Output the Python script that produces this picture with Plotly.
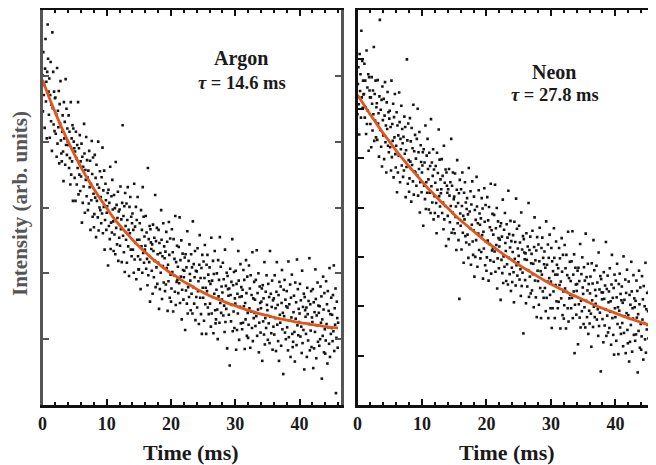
import plotly.graph_objects as go

# ---------------- data (arbitrary intensity units) ----------------
SAMPLE_INTERVAL_MS = 1 / 15  # spacing of the recorded samples

argon_intensity = [
    501, 446, 536, 471, 486, 421, 511, 556, 461, 491, 405, 506, 578, 526, 476,
    441, 496, 406, 471, 521, 431, 456, 386, 566, 451, 506, 426, 476, 416, 466,
    467, 412, 442, 377, 512, 397, 447, 422, 477, 367, 457, 427, 492, 402, 382,
    370, 415, 440, 385, 340, 460, 405, 430, 365, 495, 395, 450, 380, 420, 400,
    395, 440, 360, 415, 375, 335, 460, 350, 405, 370, 425, 310, 420, 400, 390,
    345, 385, 310, 415, 375, 335, 395, 360, 460, 320, 390, 350, 410, 325, 370,
    347, 397, 277, 377, 307, 362, 332, 427, 382, 292, 357, 342, 407, 317, 372,
    346, 296, 356, 306, 386, 331, 371, 266, 336, 311, 401, 351, 286, 376, 321,
    270, 290, 380, 315, 345, 255, 365, 310, 335, 285, 400, 265, 330, 300, 355,
    296, 316, 276, 346, 291, 391, 261, 326, 301, 356, 236, 281, 336, 311, 266,
    292, 302, 322, 212, 327, 272, 307, 252, 362, 237, 277, 317, 262, 342, 297,
    279, 234, 319, 259, 299, 229, 369, 269, 304, 244, 284, 324, 219, 294, 254,
    297, 242, 332, 267, 282, 217, 307, 425, 257, 287, 232, 302, 202, 322, 272,
    251, 306, 216, 281, 331, 241, 266, 196, 301, 261, 316, 236, 286, 226, 276,
    291, 236, 266, 201, 336, 221, 271, 246, 301, 191, 281, 251, 316, 226, 206,
    206, 251, 276, 221, 176, 296, 241, 266, 201, 331, 231, 286, 216, 256, 236,
    242, 287, 207, 262, 222, 182, 360, 197, 252, 217, 272, 157, 267, 247, 237,
    204, 244, 169, 274, 234, 194, 254, 219, 319, 179, 249, 209, 269, 184, 229,
    216, 266, 146, 246, 176, 231, 201, 296, 251, 161, 226, 211, 276, 186, 241,
    223, 173, 233, 183, 263, 208, 248, 143, 213, 188, 278, 228, 163, 253, 198,
    157, 177, 267, 202, 232, 142, 252, 197, 222, 172, 287, 152, 217, 187, 242,
    190, 210, 170, 240, 185, 285, 155, 220, 195, 250, 130, 175, 230, 205, 160,
    194, 204, 224, 114, 229, 174, 209, 154, 264, 139, 179, 219, 164, 244, 199,
    189, 144, 229, 169, 209, 139, 279, 179, 214, 154, 194, 234, 129, 204, 164,
    203, 148, 238, 173, 188, 123, 213, 258, 163, 193, 138, 208, 108, 228, 178,
    163, 218, 128, 193, 243, 153, 178, 108, 213, 173, 228, 148, 198, 138, 188,
    209, 154, 184, 119, 254, 139, 189, 164, 219, 109, 199, 169, 234, 144, 124,
    130, 175, 200, 145, 100, 220, 165, 190, 125, 255, 155, 210, 140, 180, 160,
    171, 216, 136, 191, 151, 111, 236, 126, 181, 146, 201, 86, 196, 176, 166,
    137, 177, 60, 207, 167, 127, 187, 152, 252, 112, 182, 142, 202, 117, 162,
    154, 204, 84, 184, 114, 169, 139, 234, 189, 99, 164, 149, 214, 124, 179,
    165, 115, 175, 125, 205, 150, 190, 85, 155, 130, 220, 170, 105, 195, 140,
    102, 122, 212, 147, 177, 87, 197, 142, 167, 117, 232, 97, 162, 132, 187,
    140, 160, 120, 190, 135, 235, 105, 170, 145, 200, 80, 125, 180, 155, 110,
    147, 157, 177, 67, 182, 127, 162, 107, 217, 92, 132, 172, 117, 197, 152,
    144, 99, 184, 124, 164, 94, 234, 134, 169, 109, 149, 189, 84, 159, 119,
    162, 107, 197, 132, 147, 82, 172, 217, 122, 152, 97, 167, 67, 187, 137,
    125, 180, 90, 155, 205, 115, 140, 47, 175, 135, 190, 110, 160, 100, 150,
    173, 118, 148, 83, 218, 103, 153, 128, 183, 73, 163, 133, 198, 108, 88,
    96, 141, 166, 111, 66, 186, 131, 156, 91, 221, 121, 176, 106, 146, 126,
    139, 184, 104, 159, 119, 79, 204, 94, 149, 114, 169, 54, 164, 144, 134,
    108, 148, 73, 178, 138, 98, 158, 123, 223, 83, 153, 113, 173, 88, 133,
    126, 176, 56, 156, 86, 141, 111, 206, 161, 71, 136, 121, 186, 96, 151,
    140, 90, 150, 100, 180, 125, 165, 40, 130, 105, 195, 145, 80, 170, 115,
    78, 98, 188, 123, 153, 63, 173, 118, 143, 93, 208, 73, 138, 108, 163,
    117, 137, 97, 167, 112, 212, 82, 147, 122, 177, 18, 102, 157, 132, 87,
    125,
]

neon_intensity = [
    589, 650, 684, 609, 548, 711, 636, 670, 582, 758, 623, 697, 602, 657, 629,
    630, 691, 582, 657, 603, 549, 718, 569, 643, 596, 670, 515, 664, 637, 623,
    569, 623, 522, 664, 610, 556, 637, 589, 725, 535, 630, 576, 657, 542, 603,
    611, 537, 658, 570, 591, 503, 625, 780, 557, 598, 523, 618, 483, 645, 577,
    546, 620, 498, 586, 654, 532, 566, 471, 613, 559, 634, 525, 593, 512, 580,
    596, 522, 563, 475, 657, 502, 569, 535, 610, 461, 583, 542, 630, 508, 481,
    525, 593, 431, 566, 471, 546, 505, 633, 573, 451, 539, 518, 606, 485, 559,
    530, 462, 543, 475, 584, 509, 563, 421, 516, 482, 700, 536, 448, 570, 496,
    432, 459, 581, 493, 534, 412, 561, 486, 520, 453, 608, 426, 514, 473, 547,
    471, 499, 444, 539, 465, 600, 424, 512, 478, 553, 390, 451, 526, 492, 431,
    471, 485, 512, 363, 518, 444, 491, 417, 566, 397, 451, 505, 430, 539, 478,
    457, 396, 511, 430, 484, 389, 579, 443, 491, 410, 464, 518, 376, 477, 423,
    389, 450, 484, 409, 348, 511, 436, 470, 382, 558, 423, 497, 402, 457, 429,
    437, 498, 389, 464, 410, 356, 525, 376, 450, 403, 477, 322, 471, 444, 430,
    383, 437, 336, 478, 424, 370, 451, 403, 539, 349, 444, 390, 471, 356, 417,
    422, 348, 469, 381, 402, 314, 436, 496, 368, 409, 334, 429, 215, 456, 388,
    363, 437, 315, 403, 471, 349, 383, 288, 430, 376, 451, 342, 410, 329, 397,
    419, 345, 386, 298, 480, 325, 392, 358, 433, 284, 406, 365, 453, 331, 304,
    354, 422, 260, 395, 300, 375, 334, 462, 402, 280, 368, 347, 435, 314, 388,
    365, 297, 378, 310, 419, 344, 398, 256, 351, 317, 439, 371, 283, 405, 331,
    272, 299, 421, 333, 374, 252, 401, 326, 360, 293, 448, 266, 354, 313, 387,
    317, 345, 290, 385, 311, 446, 270, 358, 324, 399, 236, 297, 372, 338, 277,
    321, 335, 362, 213, 368, 294, 341, 267, 416, 247, 301, 355, 280, 389, 328,
    312, 251, 366, 285, 339, 244, 434, 298, 346, 265, 319, 373, 231, 332, 278,
    249, 310, 344, 269, 208, 371, 296, 330, 242, 418, 283, 357, 262, 317, 289,
    302, 363, 254, 329, 275, 221, 390, 241, 315, 268, 342, 145, 336, 309, 295,
    253, 307, 206, 348, 294, 240, 321, 273, 409, 219, 314, 260, 341, 226, 287,
    306, 232, 353, 265, 286, 198, 320, 380, 252, 293, 218, 313, 178, 340, 272,
    251, 325, 203, 291, 359, 237, 271, 176, 318, 264, 339, 230, 298, 217, 285,
    311, 237, 278, 190, 372, 217, 284, 250, 325, 176, 298, 257, 345, 223, 196,
    250, 318, 156, 291, 196, 271, 230, 358, 298, 176, 264, 243, 331, 210, 284,
    264, 196, 277, 209, 318, 243, 297, 155, 250, 216, 338, 270, 182, 304, 230,
    175, 202, 324, 236, 277, 155, 304, 229, 263, 196, 351, 169, 257, 216, 290,
    223, 251, 196, 291, 217, 352, 176, 264, 230, 305, 105, 203, 278, 244, 183,
    231, 245, 272, 123, 278, 204, 251, 177, 326, 157, 211, 265, 190, 299, 238,
    225, 164, 279, 198, 252, 157, 347, 211, 259, 178, 232, 286, 144, 245, 191,
    165, 226, 260, 185, 118, 287, 212, 246, 158, 334, 199, 273, 178, 233, 205,
    221, 282, 173, 248, 194, 140, 309, 160, 234, 187, 261, 68, 255, 228, 214,
    174, 228, 127, 269, 215, 161, 242, 194, 330, 140, 235, 181, 262, 147, 208,
    230, 156, 277, 189, 210, 122, 244, 304, 176, 217, 142, 237, 102, 264, 196,
    178, 252, 130, 218, 286, 164, 198, 103, 245, 191, 266, 157, 225, 144, 212,
    240, 166, 207, 119, 301, 146, 213, 179, 254, 105, 227, 186, 274, 152, 125,
    182, 250, 88, 223, 128, 203, 162, 290, 230, 108, 196, 175, 263, 142, 216,
    198, 130, 211, 143, 252, 177, 231, 66, 184, 150, 272, 204, 116, 238, 164,
    112, 139, 261, 173, 214, 92, 241, 166, 200, 133, 288, 106, 194, 153, 227,
    162, 190, 135, 230, 156, 291, 115, 203, 169, 244, 81, 142, 217, 183, 122,
    170,
]

# exponential fit curves at whole milliseconds
fit_time_ms = list(range(0, 47))
argon_fit = [494, 468, 444, 421, 400, 380, 361, 344, 328, 313, 299, 285, 273, 262, 251,
             241, 232, 223, 215, 207, 200, 194, 187, 182, 176, 171, 166, 162, 158, 154,
             151, 147, 144, 141, 138, 136, 133, 131, 129, 127, 125, 124, 122, 121, 119,
             118, 117]
neon_fit = [628, 608, 588, 569, 550, 533, 515, 499, 483, 468, 453, 438, 425, 411, 399,
            386, 374, 363, 352, 341, 330, 321, 311, 302, 293, 284, 276, 268, 260, 252,
            245, 238, 232, 225, 219, 213, 207, 201, 196, 191, 186, 181, 176, 172, 167,
            163, 159]

gas_names = ["Argon", "Neon"]
tau_labels = ["<i>τ</i> = 14.6 ms", "<i>τ</i> = 27.8 ms"]
x_tick_values = [0, 10, 20, 30, 40]
x_title = "Time (ms)"
y_title = "Intensity (arb. units)"

argon_time = [i * SAMPLE_INTERVAL_MS for i in range(len(argon_intensity))]
neon_time = [i * SAMPLE_INTERVAL_MS for i in range(len(neon_intensity))]

# ---------------- figure ----------------
# the page has an 8 px body margin, so the figure is drawn 8 px smaller and
# every page-pixel position below is shifted by that offset
PAGE_OFFSET = 8
W, H = 656 - PAGE_OFFSET, 465 - PAGE_OFFSET
SERIF = "Liberation Serif, Times New Roman, serif"
DOT = "#151515"
FIT = "#E2561C"

fig = go.Figure()
fig.add_trace(go.Scatter(x=argon_time, y=argon_intensity, mode="markers",
                         marker=dict(symbol="square", size=2.6, color=DOT),
                         xaxis="x", yaxis="y", showlegend=False, hoverinfo="skip"))
fig.add_trace(go.Scatter(x=fit_time_ms, y=argon_fit, mode="lines",
                         line=dict(color=FIT, width=2.8, shape="spline"),
                         xaxis="x", yaxis="y", showlegend=False))
fig.add_trace(go.Scatter(x=neon_time, y=neon_intensity, mode="markers",
                         marker=dict(symbol="square", size=2.6, color=DOT),
                         xaxis="x2", yaxis="y2", showlegend=False, hoverinfo="skip"))
fig.add_trace(go.Scatter(x=fit_time_ms, y=neon_fit, mode="lines",
                         line=dict(color=FIT, width=2.8, shape="spline"),
                         xaxis="x2", yaxis="y2", showlegend=False))

def px_x(p):
    return (p - PAGE_OFFSET) / W

def px_y(p):
    return 1 - (p - PAGE_OFFSET) / H

y_dom = [px_y(405), px_y(10)]

xaxis_common = dict(
    tickvals=x_tick_values, ticks="inside", ticklen=6, tickwidth=2, tickcolor="#111",
    showline=True, linecolor="#111", linewidth=3, mirror="allticks",
    showgrid=False, zeroline=False,
    tickfont=dict(family=SERIF, size=18, color="#1a1a1a", weight="bold"),
    minor=dict(dtick=2, ticks="inside", ticklen=3, tickwidth=2, tickcolor="#111", showgrid=False),
)
yaxis_common = dict(
    ticks="inside", ticklen=6, tickwidth=2, dtick=100,
    showline=True, linewidth=3, mirror="allticks",
    showgrid=False, zeroline=False, showticklabels=False,
)

fig.update_layout(
    width=W, height=H,
    margin=dict(l=0, r=0, t=0, b=0, autoexpand=False),
    paper_bgcolor="white", plot_bgcolor="white",
    xaxis=dict(domain=[px_x(42.5), px_x(341)], range=[0, 46.45], anchor="y", **xaxis_common),
    yaxis=dict(domain=y_dom, range=[0, 600], anchor="x", linecolor="#555", tickcolor="#555",
               **yaxis_common),
    xaxis2=dict(domain=[px_x(357.5), 1.0], range=[0, 46.3], anchor="y2", **xaxis_common),
    yaxis2=dict(domain=y_dom, range=[0, 800], anchor="x2", linecolor="#111", tickcolor="#111",
                **yaxis_common),
)

name_font = dict(family=SERIF, size=20, color="#1a1a1a", weight="bold")
tau_font = dict(family=SERIF, size=18.5, color="#1a1a1a", weight="bold")
for name, tau, cx, name_y, tau_y in [(gas_names[0], tau_labels[0], 241, 58, 83),
                                     (gas_names[1], tau_labels[1], 554, 72, 95)]:
    fig.add_annotation(x=px_x(cx), y=px_y(name_y), xref="paper", yref="paper", text=name,
                       showarrow=False, font=name_font, xanchor="center", yanchor="middle")
    fig.add_annotation(x=px_x(cx + 1), y=px_y(tau_y), xref="paper", yref="paper", text=tau,
                       showarrow=False, font=tau_font, xanchor="center", yanchor="middle")

title_font = dict(family=SERIF, size=22, color="#1a1a1a", weight="bold")
fig.add_annotation(x=px_x(191), y=px_y(452), xref="paper", yref="paper", text=x_title,
                   showarrow=False, font=title_font, xanchor="center", yanchor="middle")
fig.add_annotation(x=px_x(507), y=px_y(452), xref="paper", yref="paper", text=x_title,
                   showarrow=False, font=title_font, xanchor="center", yanchor="middle")
fig.add_annotation(x=px_x(20), y=px_y(204), xref="paper", yref="paper", text=y_title,
                   showarrow=False, textangle=-90,
                   font=dict(family=SERIF, size=21, color="#555555", weight="bold"),
                   xanchor="center", yanchor="middle")

fig.write_html("out.html")
